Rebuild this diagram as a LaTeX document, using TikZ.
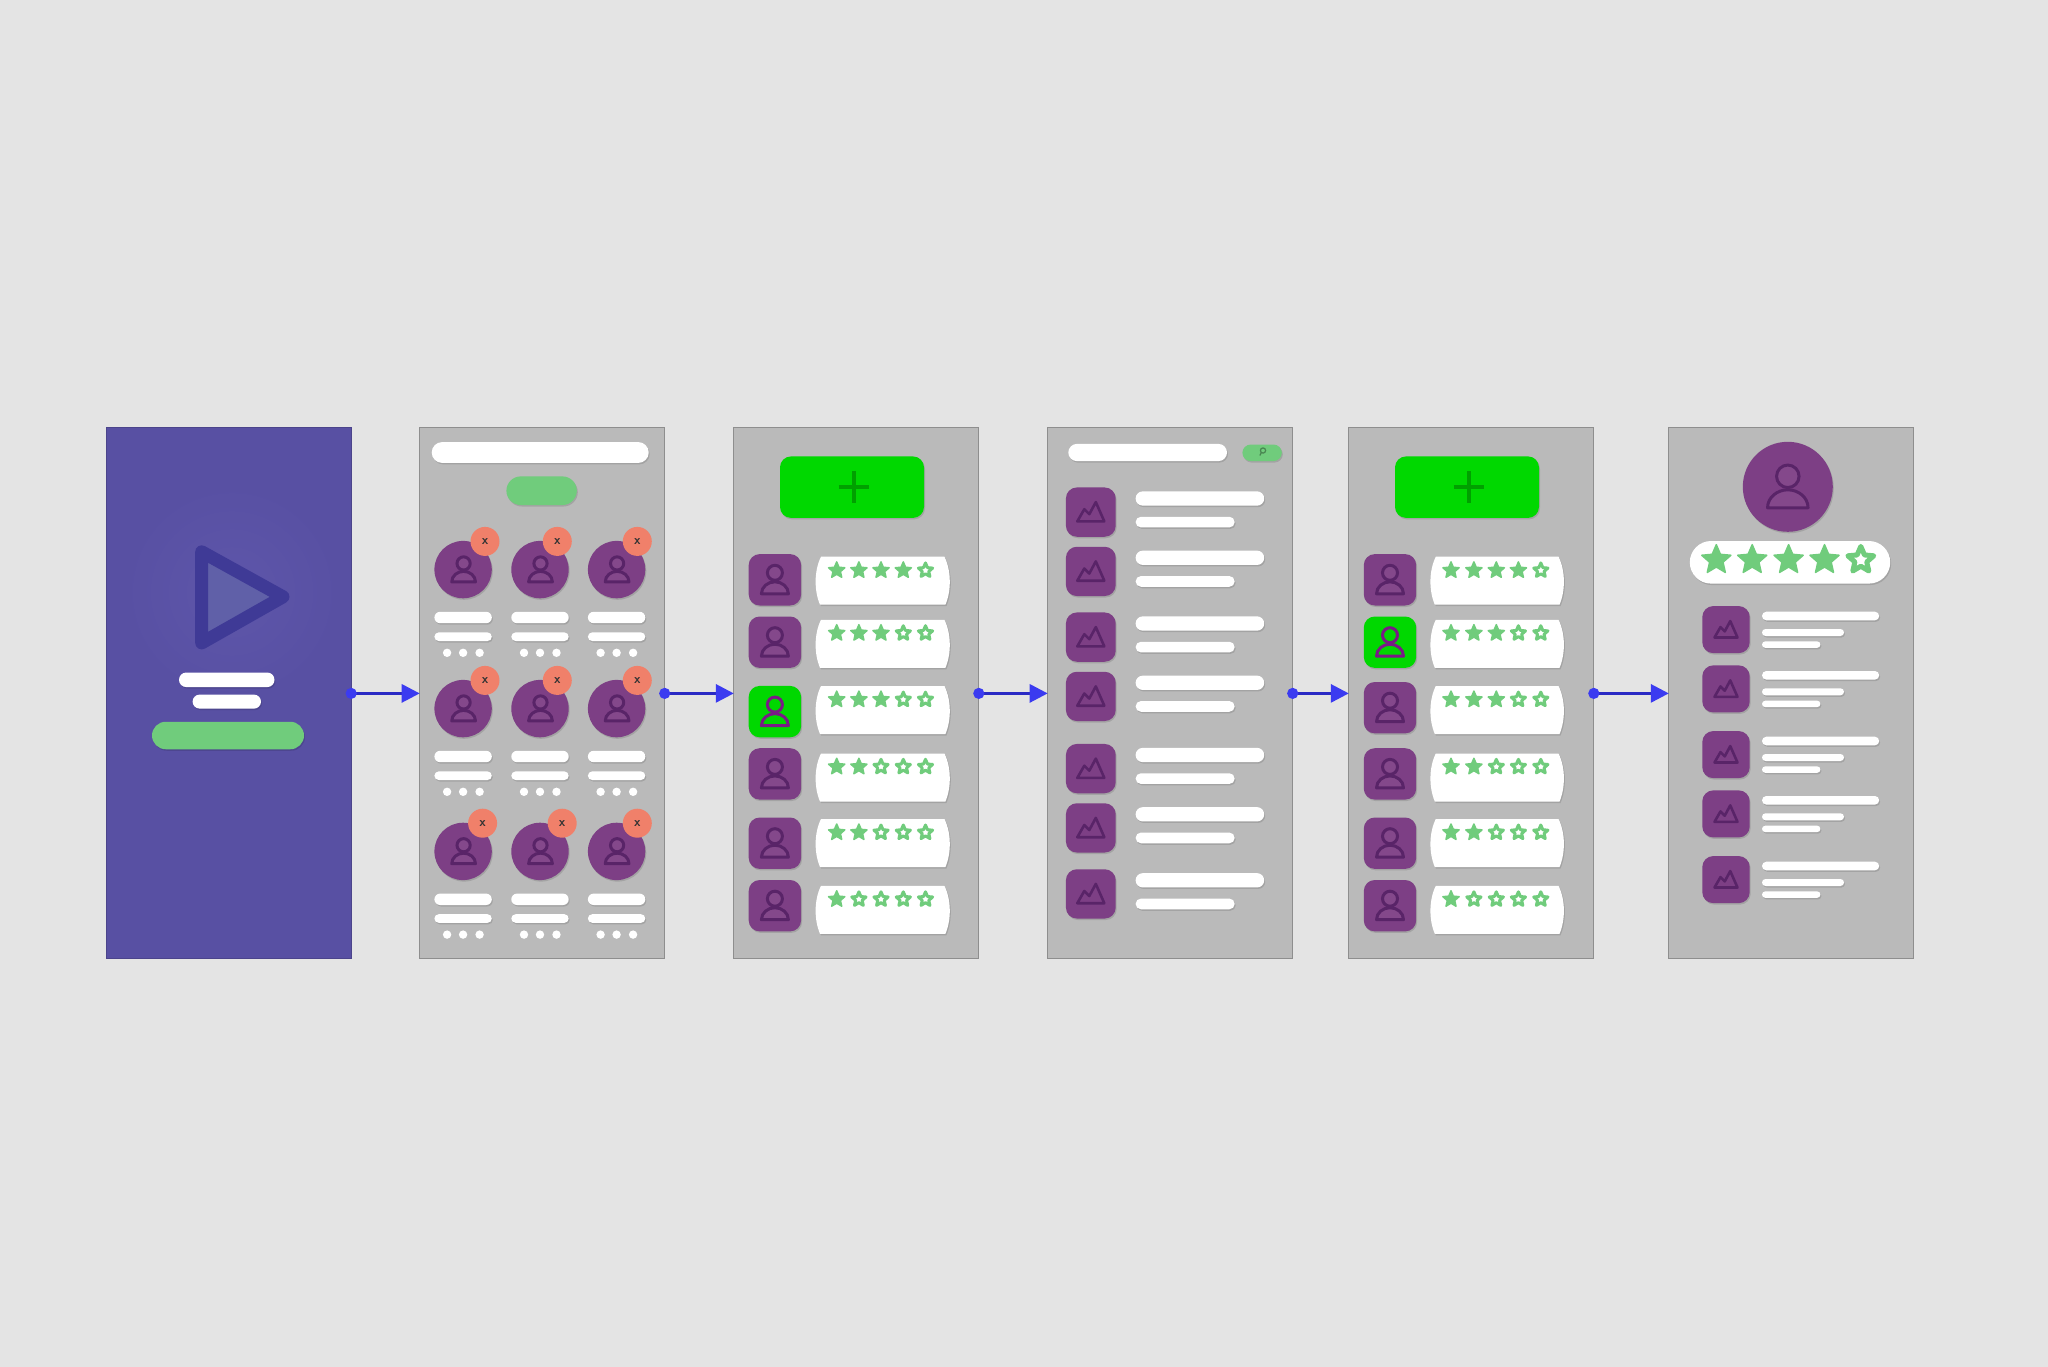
\documentclass[tikz,border=0pt]{standalone}
\usepackage{tikz}
\usetikzlibrary{arrows.meta}
\usetikzlibrary{shadows}
\definecolor{pagegray}{HTML}{E4E4E4}
\definecolor{screengray}{HTML}{BABABA}
\definecolor{screenedge}{HTML}{8E8E8E}
\definecolor{appblue}{HTML}{5850A3}
\definecolor{appglow}{HTML}{5E56AA}
\definecolor{playline}{HTML}{3F3A96}
\definecolor{playfill}{HTML}{6060A8}
\definecolor{plum}{HTML}{7D3F85}
\definecolor{plumline}{HTML}{592468}
\definecolor{plumbody}{HTML}{84488B}
\definecolor{brightplum}{HTML}{7A1A86}
\definecolor{softgreen}{HTML}{70CC7C}
\definecolor{brightgreen}{HTML}{00D800}
\definecolor{plusgreen}{HTML}{00A000}
\definecolor{coral}{HTML}{F0806A}
\definecolor{flowblue}{HTML}{3B3BF0}
\definecolor{flowline}{HTML}{2A2AC4}
\tikzset{
    screen/.style={rectangle,draw=screenedge,line width=1pt,fill=screengray,minimum width=245pt,minimum height=531pt,inner sep=0pt,outer sep=0pt},
    softshadow/.style={drop shadow={shadow xshift=1pt,shadow yshift=-1.5pt,fill=black,opacity=.12}},
    badge/.style={circle,fill=coral,minimum size=29pt,inner sep=0pt,text=black!80,font=\fontsize{13}{13}\sffamily\bfseries},
    flow/.style={{Circle[length=11pt,width=11pt,color=flowblue]}-{Triangle[length=18pt,width=18pt,color=flowblue]},draw=flowline,line width=3pt,shorten <=-5.5pt},
    fullstar/.style={draw=softgreen,fill=softgreen,line width=1.5pt,line join=round},
    openstar/.style={draw=softgreen,fill=white,line width=3pt,line join=round}
}
\newcommand{\pillbar}[5][white]{\fill[#1,softshadow,rounded corners={#5*0.5pt}] (#2,#4-#5/2) rectangle (#3,#4+#5/2);}
\newcommand{\tilebox}[5]{\fill[#5,softshadow,rounded corners=11pt] (#1-#3/2,#2-#4/2) rectangle (#1+#3/2,#2+#4/2);}
\newcommand{\personicon}[5]{
\begin{scope}[shift={(#1,#2)},scale=#3]
\draw[draw=#4,fill=#5,line width=3pt,line join=round] (-13.5,14) .. controls (-13.5,7) and (-7,2) .. (0,2) .. controls (7,2) and (13.5,7) .. (13.5,14) -- cycle;
\draw[draw=#4,fill=#5,line width=3pt] (0,-7) circle [radius=7.5];
\end{scope}
}
\newcommand{\mountainicon}[3]{
\begin{scope}[shift={(#1,#2)},scale=#3]
\draw[draw=plumline,line width=2.6pt,line join=round] (-13.5,9.3) -- (-6.5,-2.9) -- (-1.5,2.1) -- (5,-10) -- (13.5,9.3) -- cycle;
\end{scope}
}
\newcommand{\ratestar}[4]{\draw[#4,shift={(#1,#2)},scale=#3] (-90:8.5) \foreach \ang/\rad in {-54/3.9,-18/8.5,18/3.9,54/8.5,90/3.9,126/8.5,162/3.9,198/8.5,234/3.9}{ -- (\ang:\rad)} -- cycle;}
\newcommand{\addbutton}[2]{
\fill[brightgreen,softshadow,rounded corners=11pt] (#1-72,456.4) rectangle (#1+72,517.9);
\draw[plusgreen,line width=4pt] (#2-15,487.1) -- (#2+15,487.1);
\draw[plusgreen,line width=4pt] (#2,471) -- (#2,503);
}
\newcommand{\ratinglist}[6]{
\foreach \row/\sqy/\cardy/\stary/\nfull in {1/579.8/580.7/570.4/4,2/642.2/643.8/633.2/3,3/#6/710/699.6/3,4/773.9/777.5/766.8/2,5/843.2/843/832.5/2,6/905.7/909.8/899.3/1}{
\ifnum\row=#5
\tilebox{#1}{\sqy}{52.4}{51.4}{brightgreen}
\personicon{#1}{\sqy}{1}{brightplum}{brightgreen}
\else
\tilebox{#1}{\sqy}{52.4}{51.4}{plum}
\personicon{#1}{\sqy}{1}{plumline}{plumbody}
\fi
\fill[white,softshadow] (#2+6,\cardy-24) -- (#3-6,\cardy-24) .. controls (#3+1,\cardy-10) and (#3+1,\cardy+10) .. (#3-5,\cardy+24) -- (#2+5,\cardy+24) .. controls (#2-1,\cardy+10) and (#2-1,\cardy-10) .. cycle;
\foreach \sx [count=\k] in {#4}{
\ifnum\k>\nfull
\ratestar{\sx}{\stary}{0.88}{openstar}
\else
\ratestar{\sx}{\stary}{1}{fullstar}
\fi
}
}
}
\begin{document}
\begin{tikzpicture}[x=1pt,y=-1pt]
\useasboundingbox (0,0) rectangle (2048,1367);
\fill[pagegray] (0,0) rectangle (2048,1367);
\node[screen,draw=appblue!85!black,fill=appblue] (welcome) at (228.7,693.4) {};
\node[screen] (people) at (542.2,693.4) {};
\node[screen] (ratings) at (856.3,693.4) {};
\node[screen] (gallery) at (1170.2,693.4) {};
\node[screen] (choose) at (1471.3,693.4) {};
\node[screen] (profile) at (1791.3,693.4) {};
\draw[flow] (welcome.east) -- (people.west);
\draw[flow] (people.east) -- (ratings.west);
\draw[flow] (ratings.east) -- (gallery.west);
\draw[flow] (gallery.east) -- (choose.west);
\draw[flow] (choose.east) -- (profile.west);
\shade[inner color=appglow,outer color=appblue] (231.6,592) circle [radius=108];
\draw[draw=playline,fill=playfill,line width=13pt,line join=round] (201.7,551.8) -- (283,596.8) -- (201.7,642.9) -- cycle;
\pillbar{179}{274.5}{679.8}{14.6}
\pillbar{192.6}{261}{701.6}{14}
\pillbar[softgreen]{152}{304}{735.5}{27.5}
\pillbar{431.7}{648.7}{452.5}{20.8}
\pillbar[softgreen]{506.4}{576.8}{490.7}{28.6}
\foreach \ay/\by/\bxa/\bxb/\bxc [count=\row] in {569.6/541.4/485/557.3/637.3,708.6/680.4/485/557.3/637.3,851.4/823.2/482.6/562.2/637.3}{
\foreach \ax/\bx [count=\col] in {463.1/\bxa,540/\bxb,616.6/\bxc}{
\fill[plum,softshadow] (\ax,\ay) circle [radius=28.7];
\personicon{\ax+0.5}{\ay}{0.88}{plumline}{plumbody}
\node[badge] (badge\row\col) at (\bx,\by) {x};
\pillbar{\ax-28.7}{\ax+28.7}{\ay+47.9}{11.4}
\pillbar{\ax-28.7}{\ax+28.7}{\ay+67.1}{8.6}
\foreach \dx in {-16,0,16.5}{
\fill[white] (\ax+\dx,\ay+83.2) circle [radius=4.2];
}
}
}
\addbutton{852}{853.6}
\ratinglist{774.9}{815}{950.4}{836.7,858.9,881,903.3,925.5}{3}{711.6}
\pillbar{1068.3}{1227}{452.5}{17.2}
\pillbar[softgreen]{1242.4}{1281.8}{452.8}{16.5}
\draw[draw=softgreen!65!black,line width=1.2pt] (1263,450.5) circle [radius=2.6];
\draw[draw=softgreen!65!black,line width=1.2pt] (1261.3,452.7) -- (1259.8,455.5);
\foreach \my in {512.1,571.4,637.1,696.4,768.6,827.9,893.9}{
\tilebox{1090.8}{\my}{49.8}{49.3}{plum}
\mountainicon{1090.8}{\my}{1}
\pillbar{1135.6}{1264.2}{\my-13.6}{14.3}
\pillbar{1135.6}{1234.7}{\my+10}{10.7}
}
\addbutton{1467}{1468.6}
\ratinglist{1390}{1429.8}{1564.5}{1451,1473.9,1496.3,1518.4,1540.8}{2}{707.7}
\fill[plum,softshadow] (1787.8,486.8) circle [radius=45];
\personicon{1787.8}{486.8}{1.5}{plumline}{plumbody}
\pillbar{1689.8}{1890.2}{562.3}{42.6}
\foreach \sx in {1716.3,1752.2,1788.6,1824.5}{
\ratestar{\sx}{560}{1.8}{fullstar}
}
\ratestar{1860.8}{560}{1.6}{openstar,line width=5pt}
\foreach \my in {629.6,688.9,754.6,813.9,879.6}{
\tilebox{1726}{\my}{47.4}{47.1}{plum}
\mountainicon{1726}{\my}{0.85}
\pillbar{1762}{1879.2}{\my-13.6}{8.6}
\pillbar{1762}{1844}{\my+2.9}{7}
\pillbar{1762}{1820.4}{\my+15}{6.4}
}
\end{tikzpicture}
\end{document}
